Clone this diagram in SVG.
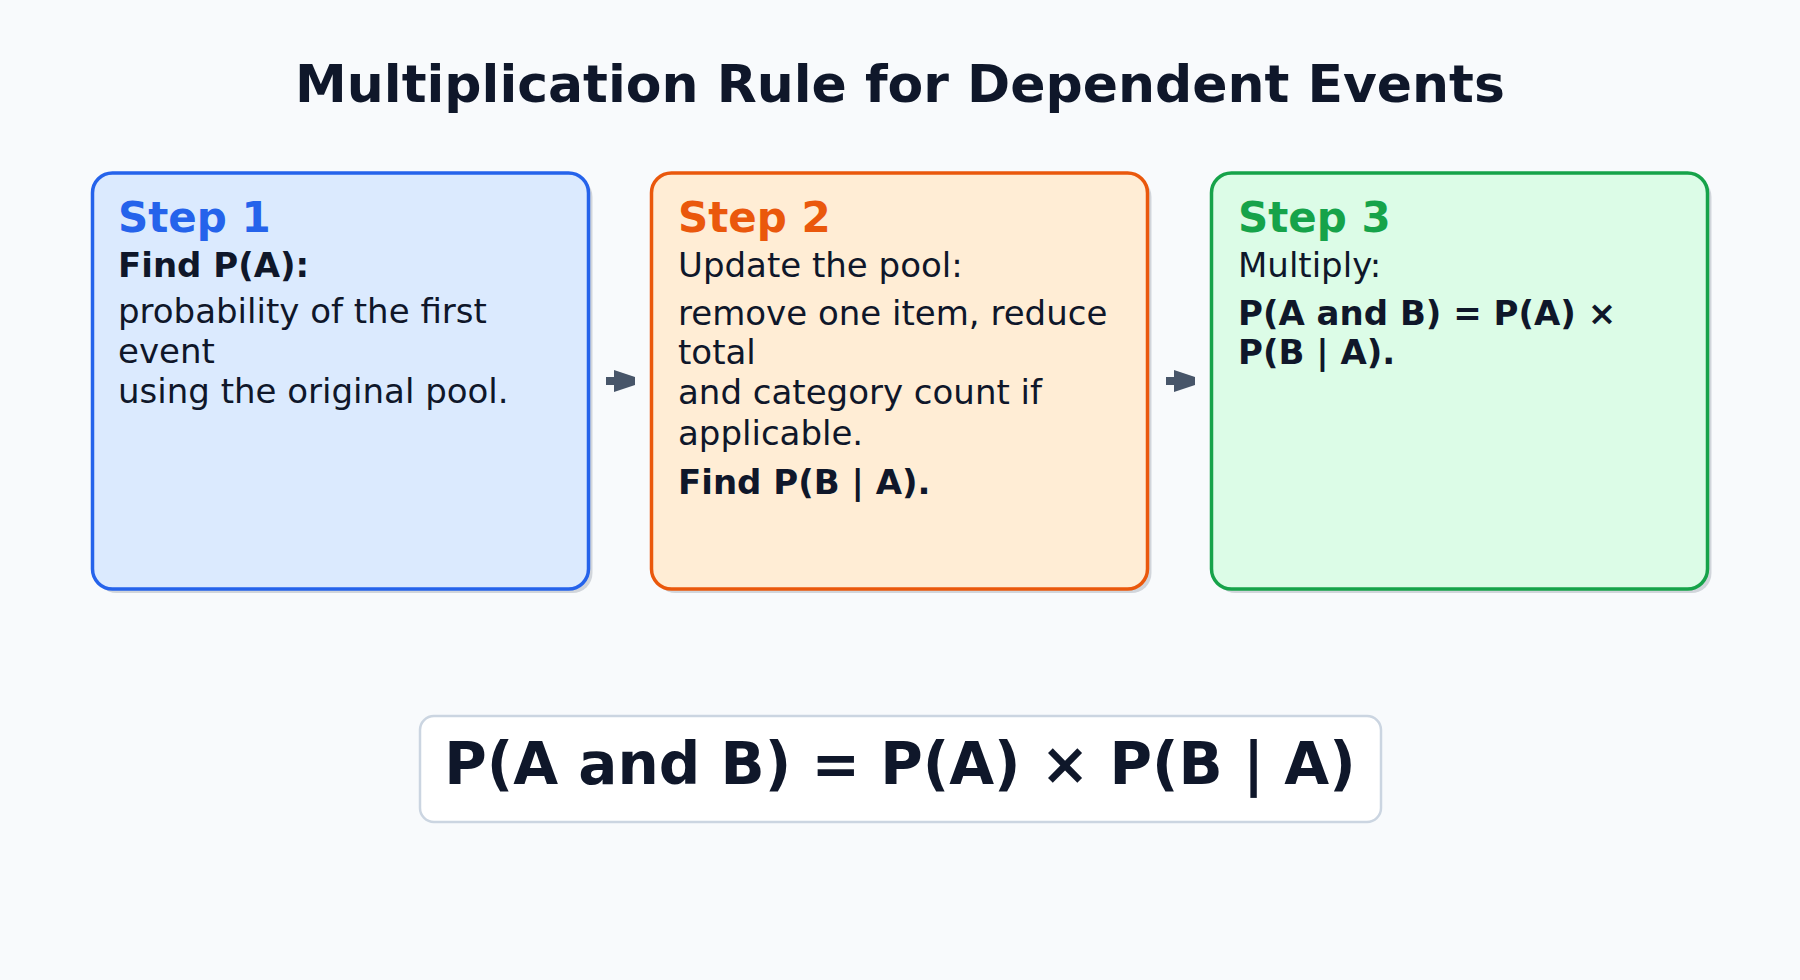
<svg xmlns="http://www.w3.org/2000/svg" width="1800" height="980" viewBox="0 0 1800 980">
  <style>
    .title { font-family: "DejaVu Sans", "Liberation Sans", sans-serif; font-weight: bold; font-size: 52px; fill: #0f172a; }
    .head { font-family: "DejaVu Sans", "Liberation Sans", sans-serif; font-weight: bold; font-size: 42px; }
    .body { font-family: "DejaVu Sans", "Liberation Sans", sans-serif; font-size: 34px; fill: #0f172a; }
    .bold { font-weight: bold; }
    .formula { font-family: "DejaVu Sans", "Liberation Sans", sans-serif; font-weight: bold; font-size: 58px; fill: #0f172a; }
    .shadow { fill: #d1d5db; }
    .card { stroke-width: 3.5; }
    .arrow { fill: #475569; }
  </style>
  <defs>
    <path id="arrowShape" d="M0,-4 L8,-4 L8,-11 L29,-4 L29,4 L8,11 L8,4 L0,4 Z"/>
  </defs>
  <rect x="0" y="0" width="1800" height="980" fill="#f8fafc"/>
  <text class="title" x="900" y="102" text-anchor="middle">Multiplication Rule for Dependent Events</text>

  <g id="step1">
    <rect class="shadow" x="96.5" y="177" width="496" height="416" rx="20"/>
    <rect class="card" x="92.5" y="173" width="496" height="416" rx="20" fill="#dbeafe" stroke="#2563eb"/>
    <text class="head" x="118" y="232" fill="#2563eb">Step 1</text>
    <text class="body bold" x="118" y="277">Find P(A):</text>
    <text class="body" x="118" y="323">probability of the first</text>
    <text class="body" x="118" y="363">event</text>
    <text class="body" x="118" y="403">using the original pool.</text>
  </g>

  <g id="step2">
    <rect class="shadow" x="655.5" y="177" width="496" height="416" rx="20"/>
    <rect class="card" x="651.5" y="173" width="496" height="416" rx="20" fill="#ffedd5" stroke="#ea580c"/>
    <text class="head" x="678" y="232" fill="#ea580c">Step 2</text>
    <text class="body" x="678" y="277">Update the pool:</text>
    <text class="body" x="678" y="325">remove one item, reduce</text>
    <text class="body" x="678" y="364">total</text>
    <text class="body" x="678" y="404">and category count if</text>
    <text class="body" x="678" y="445">applicable.</text>
    <text class="body bold" x="678" y="494">Find P(B | A).</text>
  </g>

  <g id="step3">
    <rect class="shadow" x="1215.5" y="177" width="496" height="416" rx="20"/>
    <rect class="card" x="1211.5" y="173" width="496" height="416" rx="20" fill="#dcfce7" stroke="#16a34a"/>
    <text class="head" x="1238" y="232" fill="#16a34a">Step 3</text>
    <text class="body" x="1238" y="277">Multiply:</text>
    <text class="body bold" x="1238" y="325">P(A and B) = P(A) ×</text>
    <text class="body bold" x="1238" y="364">P(B | A).</text>
  </g>

  <g id="connectors">
    <use href="#arrowShape" class="arrow" transform="translate(606,381)"/>
    <use href="#arrowShape" class="arrow" transform="translate(1166,381)"/>
  </g>

  <g id="formula">
    <rect x="420" y="716" width="961" height="106" rx="14" fill="#ffffff" stroke="#cbd5e1" stroke-width="2.5"/>
    <text class="formula" x="900" y="784" text-anchor="middle">P(A and B) = P(A) × P(B | A)</text>
  </g>
</svg>
